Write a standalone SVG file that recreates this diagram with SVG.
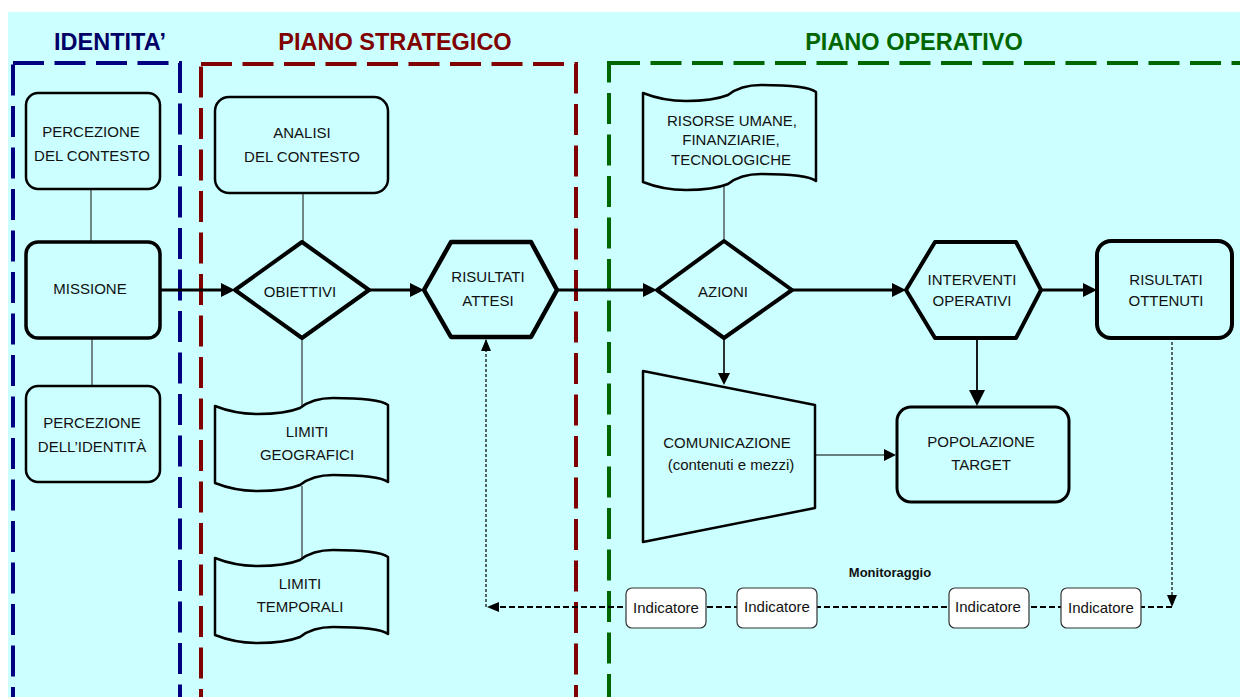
<svg xmlns="http://www.w3.org/2000/svg" width="1240" height="697" viewBox="0 0 1240 697">
<style>
.t{font-family:"Liberation Sans",Arial,sans-serif;font-size:15px;fill:#111;text-anchor:middle}
.h{font-family:"Liberation Sans",Arial,sans-serif;font-size:23.5px;font-weight:bold;text-anchor:middle}
.zone{fill:none;stroke-width:4;stroke-dasharray:31 10.5}
.n{fill:#CCFFFF;stroke:#000;stroke-linejoin:round}
.thin{stroke:#333;stroke-width:1.2;fill:none}
.main{stroke:#000;stroke-width:3;fill:none}
.ind{fill:#fff;stroke:#333;stroke-width:1.2}
</style>
<defs>
<marker id="a14" viewBox="0 0 14 14" markerWidth="14" markerHeight="14" refX="10" refY="7" orient="auto" markerUnits="userSpaceOnUse"><path d="M0,0 L14,7 L0,14 Z" fill="#000"/></marker>
<marker id="a12" viewBox="0 0 12 12" markerWidth="12" markerHeight="12" refX="10" refY="6" orient="auto" markerUnits="userSpaceOnUse"><path d="M0,0 L12,6 L0,12 Z" fill="#000"/></marker>
<marker id="a16" viewBox="0 0 16 16" markerWidth="16" markerHeight="16" refX="14" refY="8" orient="auto" markerUnits="userSpaceOnUse"><path d="M0,0 L16,8 L0,16 Z" fill="#000"/></marker>
<marker id="a10" viewBox="0 0 12 10" markerWidth="12" markerHeight="10" refX="11" refY="5" orient="auto" markerUnits="userSpaceOnUse"><path d="M0,0 L12,5 L0,10 Z" fill="#000"/></marker>
</defs>
<rect x="0" y="0" width="1240" height="697" fill="#fff"/>
<rect x="8" y="12" width="1232" height="685" fill="#CCFFFF"/>
<g id="zones">
<rect class="zone" x="13" y="63" width="167" height="700" stroke="#000080"/>
<rect class="zone" x="201" y="64" width="375" height="700" stroke="#800000"/>
<rect class="zone" x="609" y="63" width="700" height="700" stroke="#006600"/>
<text class="h" x="110" y="50" fill="#000066">IDENTITA’</text>
<text class="h" x="395" y="50" fill="#800000">PIANO STRATEGICO</text>
<text class="h" x="914" y="50" fill="#006600">PIANO OPERATIVO</text>
</g>
<g id="connectors">
<line class="thin" x1="91" y1="189" x2="91" y2="242"/>
<line class="thin" x1="92" y1="338" x2="92" y2="386"/>
<line class="thin" x1="303" y1="193" x2="303" y2="242"/>
<line class="thin" x1="302" y1="338" x2="302" y2="410"/>
<line class="thin" x1="302" y1="486" x2="302" y2="562"/>
<line class="thin" x1="724" y1="180" x2="724" y2="241"/>
<line class="main" x1="160" y1="290" x2="231" y2="290" marker-end="url(#a14)"/>
<line class="main" x1="369" y1="290" x2="420" y2="290" marker-end="url(#a14)"/>
<line class="main" x1="557" y1="290" x2="653" y2="290" marker-end="url(#a14)"/>
<line class="main" x1="792" y1="290" x2="902" y2="290" marker-end="url(#a14)"/>
<line class="main" x1="1041" y1="290" x2="1093" y2="290" marker-end="url(#a14)"/>
<line stroke="#000" stroke-width="1.6" x1="724" y1="338" x2="724" y2="383" marker-end="url(#a12)"/>
<line stroke="#000" stroke-width="1.8" x1="977" y1="338" x2="977" y2="404" marker-end="url(#a16)"/>
<line stroke="#000" stroke-width="1.2" x1="815" y1="455" x2="894" y2="455" marker-end="url(#a12)"/>
<line stroke="#000" stroke-width="1.2" stroke-dasharray="3 2" x1="1172" y1="342" x2="1172" y2="606" marker-end="url(#a10)"/>
<line stroke="#000" stroke-width="2" stroke-dasharray="6 3" x1="1172" y1="607" x2="488" y2="607" marker-end="url(#a10)"/>
<line stroke="#000" stroke-width="1.2" stroke-dasharray="3 2" x1="486" y1="607" x2="486" y2="340" marker-end="url(#a10)"/>
</g>
<g id="percezione-contesto">
<rect class="n" x="26" y="93" width="134" height="96" rx="12" stroke-width="2.5"/>
<text class="t" x="91" y="137">PERCEZIONE</text>
<text class="t" x="92" y="161">DEL CONTESTO</text>
</g>
<g id="missione">
<rect class="n" x="26" y="242" width="134" height="96" rx="12" stroke-width="3.5"/>
<text class="t" x="90" y="294">MISSIONE</text>
</g>
<g id="percezione-identita">
<rect class="n" x="26" y="386" width="134" height="96" rx="12" stroke-width="2.5"/>
<text class="t" x="92" y="428">PERCEZIONE</text>
<text class="t" x="92" y="452">DELL’IDENTITÀ</text>
</g>
<g id="analisi">
<rect class="n" x="215" y="97" width="173" height="96" rx="14" stroke-width="2.5"/>
<text class="t" x="302" y="138">ANALISI</text>
<text class="t" x="302" y="162">DEL CONTESTO</text>
</g>
<g id="obiettivi">
<polygon class="n" points="302,242 369,290 302,338 235,290" stroke-width="4"/>
<text class="t" x="300" y="297">OBIETTIVI</text>
</g>
<g id="limiti-geografici">
<path class="n" stroke-width="2.5" d="M215,406 C230,412 245,414 258,414 C275,414 290,412 300,408 C310,400 320,398 333,398 C355,398 380,399 388,405 L388,482 C380,476 355,475 333,475 C320,475 310,477 300,485 C290,489 275,491 258,491 C245,491 230,489 215,483 Z"/>
<text class="t" x="307" y="437">LIMITI</text>
<text class="t" x="307" y="460">GEOGRAFICI</text>
</g>
<g id="limiti-temporali">
<path class="n" stroke-width="2.5" d="M215,558 C230,564 245,566 258,566 C275,566 290,564 300,560 C310,552 320,550 333,550 C355,550 380,551 388,557 L388,634 C380,628 355,627 333,627 C320,627 310,629 300,637 C290,641 275,643 258,643 C245,643 230,641 215,635 Z"/>
<text class="t" x="300" y="589">LIMITI</text>
<text class="t" x="300" y="612">TEMPORALI</text>
</g>
<g id="risultati-attesi">
<polygon class="n" points="424,290 451,242 531,242 557,290 531,337 451,337" stroke-width="4.5"/>
<text class="t" x="488" y="282">RISULTATI</text>
<text class="t" x="488" y="306">ATTESI</text>
</g>
<g id="risorse">
<path class="n" stroke-width="2.5" d="M643,93 C658,99 673,101 686,101 C703,101 718,99 728,95 C738,87 748,85 761,85 C783,85 808,86 816,92 L816,181 C808,175 783,174 761,174 C748,174 738,176 728,184 C718,188 703,190 686,190 C673,190 658,188 643,182 Z"/>
<text class="t" x="732" y="126">RISORSE UMANE,</text>
<text class="t" x="731" y="145">FINANZIARIE,</text>
<text class="t" x="731" y="165">TECNOLOGICHE</text>
</g>
<g id="azioni">
<polygon class="n" points="724,241 792,290 724,338 657,290" stroke-width="4"/>
<text class="t" x="723" y="297">AZIONI</text>
</g>
<g id="interventi">
<polygon class="n" points="906,290 935,242 1016,242 1041,290 1016,338 935,338" stroke-width="4"/>
<text class="t" x="972" y="285">INTERVENTI</text>
<text class="t" x="972" y="306">OPERATIVI</text>
</g>
<g id="risultati-ottenuti">
<rect class="n" x="1097" y="241" width="135" height="97" rx="14" stroke-width="4"/>
<text class="t" x="1166" y="285">RISULTATI</text>
<text class="t" x="1166" y="306">OTTENUTI</text>
</g>
<g id="comunicazione">
<polygon class="n" points="643,371 815,405 815,508 643,542" stroke-width="2.5"/>
<text class="t" x="727" y="448">COMUNICAZIONE</text>
<text class="t" x="731" y="470">(contenuti e mezzi)</text>
</g>
<g id="popolazione">
<rect class="n" x="897" y="407" width="172" height="95" rx="14" stroke-width="3"/>
<text class="t" x="981" y="447">POPOLAZIONE</text>
<text class="t" x="981" y="470">TARGET</text>
</g>
<g id="monitoraggio">
<text x="890" y="577" font-family="Liberation Sans,Arial,sans-serif" font-size="13" font-weight="bold" text-anchor="middle" fill="#111">Monitoraggio</text>
</g>
<g id="indicatore-1">
<rect class="ind" x="626" y="588" width="80" height="40" rx="6"/>
<text class="t" x="666" y="613">Indicatore</text>
</g>
<g id="indicatore-2">
<rect class="ind" x="737" y="588" width="80" height="40" rx="6"/>
<text class="t" x="777" y="612">Indicatore</text>
</g>
<g id="indicatore-3">
<rect class="ind" x="949" y="588" width="80" height="40" rx="6"/>
<text class="t" x="988" y="612">Indicatore</text>
</g>
<g id="indicatore-4">
<rect class="ind" x="1061" y="588" width="80" height="40" rx="6"/>
<text class="t" x="1101" y="613">Indicatore</text>
</g>
</svg>
